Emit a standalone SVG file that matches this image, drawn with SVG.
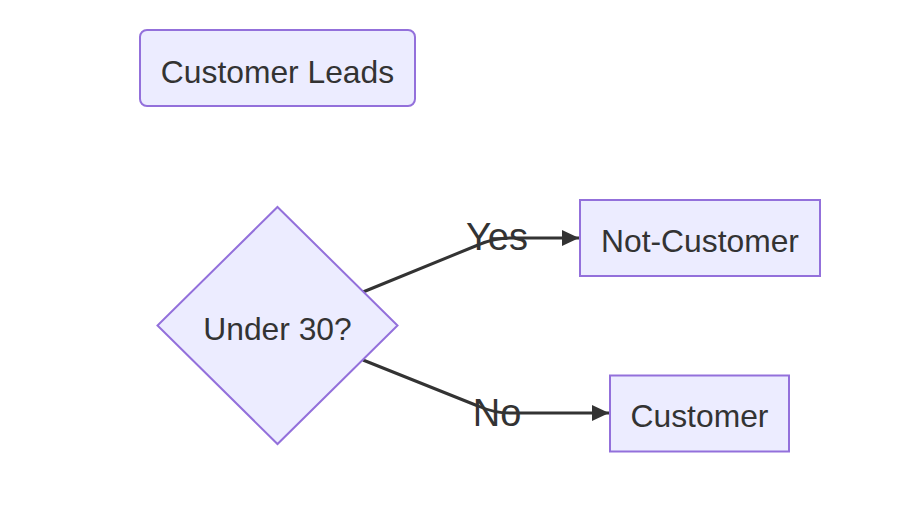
<svg xmlns="http://www.w3.org/2000/svg" width="920" height="524" viewBox="0 0 920 524">
  <style>
    .node rect, .node polygon { fill: #ECECFF; stroke: #9370DB; stroke-width: 2; }
    .label { font-family: "Liberation Sans", Arial, sans-serif; font-size: 31.8px; fill: #333333; text-anchor: middle; }
    .edge { fill: none; stroke: #333333; stroke-width: 3; }
    .edgeLabel { font-family: "Liberation Sans", Arial, sans-serif; font-size: 38px; fill: #333333; text-anchor: middle; }
  </style>
  <defs>
    <marker id="arrow" viewBox="0 0 17 16" refX="17" refY="8" markerWidth="17" markerHeight="16" markerUnits="userSpaceOnUse" orient="auto">
      <path d="M0,0 L17,8 L0,16 Z" fill="#333333"/>
    </marker>
  </defs>
  <rect width="920" height="524" fill="#ffffff"/>

  <g id="connectors">
    <path class="edge" d="M363,292 L478,245 Q494,238 510,238 L579,238" marker-end="url(#arrow)"/>
    <path class="edge" d="M363,360 L478,406 Q494,413 510,413 L609,413" marker-end="url(#arrow)"/>
    <text class="edgeLabel" x="497" y="250">Yes</text>
    <text class="edgeLabel" x="497" y="426">No</text>
  </g>

  <g id="customer-leads" class="node">
    <rect x="140" y="30" width="275" height="76" rx="7" ry="7"/>
    <text class="label" x="277.5" y="83">Customer Leads</text>
  </g>

  <g id="under-30" class="node">
    <polygon points="277.5,207 397.5,325.5 277.5,444 157.5,325.5"/>
    <text class="label" x="277.5" y="340">Under 30?</text>
  </g>

  <g id="not-customer" class="node">
    <rect x="580" y="200" width="240" height="76"/>
    <text class="label" x="700" y="252">Not-Customer</text>
  </g>

  <g id="customer" class="node">
    <rect x="610" y="375.5" width="179" height="76"/>
    <text class="label" x="699.5" y="427">Customer</text>
  </g>
</svg>
